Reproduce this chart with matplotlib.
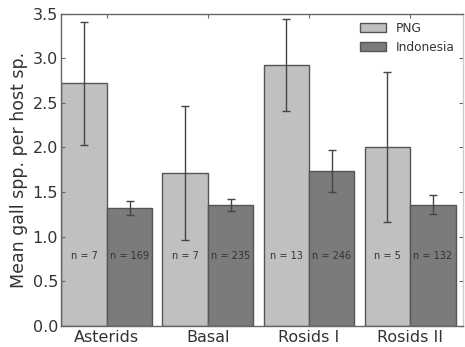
import matplotlib
matplotlib.use("Agg")
import matplotlib.pyplot as plt
import numpy as np

categories = ["Asterids", "Basal", "Rosids I", "Rosids II"]
png_mean = [2.72, 1.71, 2.92, 2.00]
png_lo = [2.03, 0.96, 2.41, 1.16]
png_hi = [3.40, 2.46, 3.44, 2.84]
png_n = [7, 7, 13, 5]
indo_mean = [1.32, 1.36, 1.74, 1.36]
indo_lo = [1.24, 1.29, 1.50, 1.25]
indo_hi = [1.40, 1.42, 1.97, 1.47]
indo_n = [169, 235, 246, 132]

fig = plt.figure(figsize=(4.65, 3.47), dpi=100)
ax = fig.add_axes([0.131, 0.0605, 0.865, 0.9005])

x = np.arange(len(categories))
w = 0.45
edge = "#555555"
ecol = "#444444"

png_err = [np.array(png_mean) - np.array(png_lo), np.array(png_hi) - np.array(png_mean)]
indo_err = [np.array(indo_mean) - np.array(indo_lo), np.array(indo_hi) - np.array(indo_mean)]

ax.bar(x - w / 2, png_mean, w, color="#c0c0c0", edgecolor=edge, linewidth=1.0, label="PNG",
       yerr=png_err, error_kw=dict(ecolor=ecol, elinewidth=1.0, capsize=3, capthick=1.0))
ax.bar(x + w / 2, indo_mean, w, color="#7b7b7b", edgecolor=edge, linewidth=1.0, label="Indonesia",
       yerr=indo_err, error_kw=dict(ecolor=ecol, elinewidth=1.0, capsize=3, capthick=1.0))

for i in range(len(categories)):
    ax.text(x[i] - w / 2, 0.78, f"n = {png_n[i]}", ha="center", va="center", fontsize=7, color="#333333")
    ax.text(x[i] + w / 2, 0.78, f"n = {indo_n[i]}", ha="center", va="center", fontsize=7, color="#333333")

ax.set_xlim(-0.455, 3.525)
ax.set_ylim(0, 3.5)
ax.set_yticks(np.arange(0, 3.51, 0.5))
ax.set_yticklabels([f"{v:.1f}" for v in np.arange(0, 3.51, 0.5)])
ax.set_xticks(x)
ax.set_xticklabels(categories)
ax.tick_params(axis="both", direction="in", top=True, right=True, colors="#666666",
               labelcolor="#333333", labelsize=11.5, length=3, pad=2)
ax.tick_params(axis="x", labelsize=11.5, pad=3)
ax.set_ylabel("Mean gall spp. per host sp.", fontsize=12.5, color="#333333", labelpad=3)
for s in ax.spines.values():
    s.set_color("#666666")
    s.set_linewidth(1.0)
ax.spines["right"].set_color("#cccccc")

leg = ax.legend(loc="upper right", frameon=False, fontsize=8.7, handlelength=2.2,
                handleheight=0.8, borderaxespad=0.3, labelspacing=0.5, labelcolor="#333333")

fig.savefig("out.png", dpi=100)
